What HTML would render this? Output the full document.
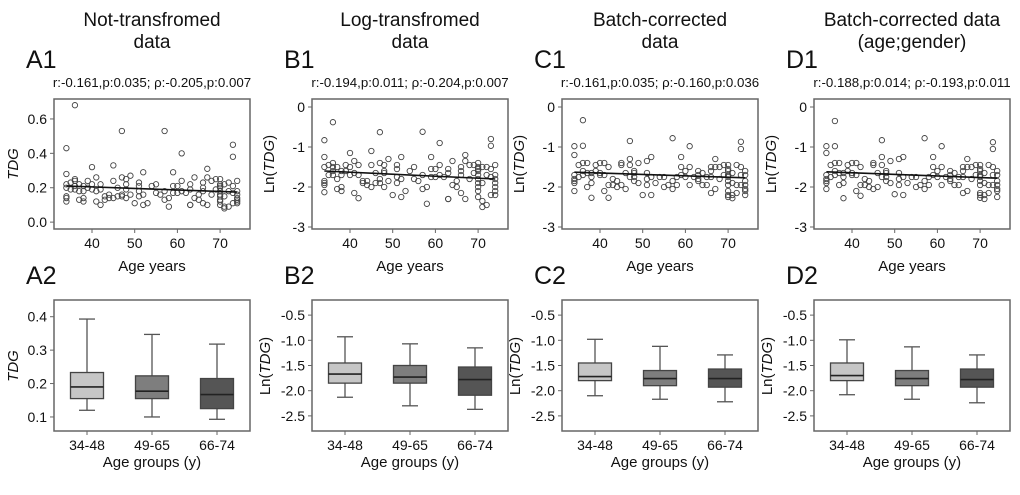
<!DOCTYPE html>
<html><head><meta charset="utf-8"><style>
body{margin:0;background:#fff;}
svg{display:block;font-family:"Liberation Sans",Arial,sans-serif;}
</style></head><body>
<svg id="fig" width="1020" height="495" viewBox="0 0 1020 495"></svg>
<script>
const ages=[34,34,34,34,34,34,34,35,35,36,36,36,36,36,37,37,37,38,38,38,38,39,39,40,40,40,41,41,41,42,42,42,43,43,44,44,45,45,45,46,46,47,47,47,47,48,48,48,48,49,49,50,51,51,51,51,52,52,52,53,54,55,55,56,57,57,57,58,58,59,59,59,60,60,61,61,61,62,63,63,63,63,64,64,65,65,66,66,66,66,67,67,67,68,68,69,69,70,70,70,70,70,70,70,70,70,70,71,71,71,71,72,72,72,73,73,73,73,73,74,74,74,74,74,74,74];
const valsA=[0.43,0.28,0.22,0.2,0.15,0.14,0.12,0.19,0.23,0.68,0.25,0.24,0.21,0.19,0.22,0.13,0.18,0.21,0.12,0.14,0.18,0.24,0.2,0.32,0.22,0.19,0.26,0.18,0.12,0.22,0.1,0.19,0.15,0.13,0.14,0.16,0.33,0.24,0.14,0.2,0.15,0.53,0.26,0.16,0.15,0.25,0.19,0.14,0.22,0.27,0.16,0.11,0.23,0.21,0.15,0.18,0.29,0.16,0.1,0.11,0.21,0.22,0.17,0.16,0.53,0.18,0.13,0.09,0.14,0.29,0.21,0.17,0.21,0.17,0.4,0.24,0.18,0.17,0.22,0.19,0.1,0.1,0.26,0.14,0.13,0.16,0.23,0.2,0.18,0.11,0.31,0.26,0.1,0.24,0.16,0.25,0.19,0.25,0.22,0.2,0.18,0.16,0.15,0.13,0.12,0.1,0.21,0.22,0.08,0.09,0.15,0.23,0.09,0.18,0.45,0.38,0.21,0.11,0.17,0.24,0.18,0.16,0.14,0.12,0.11,0.13];
const valsB=[-0.83,-1.25,-1.5,-1.85,-1.95,-2.13,-1.9,-1.45,-1.7,-0.38,-1.4,-1.5,-1.6,-1.7,-1.5,-1.8,-2.05,-1.6,-2.1,-2.0,-1.7,-1.45,-1.6,-1.15,-1.5,-1.7,-1.35,-1.65,-2.15,-1.45,-2.28,-1.7,-1.85,-1.9,-1.95,-1.85,-1.1,-1.45,-2.0,-1.65,-1.9,-0.63,-1.4,-1.8,-1.9,-1.45,-1.65,-2.0,-1.6,-1.3,-1.85,-2.2,-1.45,-1.55,-1.9,-1.75,-1.25,-1.8,-2.25,-2.1,-1.6,-1.5,-1.8,-1.85,-0.62,-1.7,-2.05,-2.42,-2.0,-1.25,-1.55,-1.75,-1.55,-1.75,-0.9,-1.45,-1.7,-1.75,-1.55,-1.65,-2.3,-2.3,-1.35,-1.95,-2.0,-1.85,-1.5,-1.6,-1.7,-2.15,-1.2,-1.35,-2.3,-1.45,-1.8,-1.45,-1.65,-1.4,-1.5,-1.6,-1.7,-1.8,-1.9,-2.0,-2.1,-2.25,-1.55,-1.5,-2.5,-2.35,-1.9,-1.5,-2.45,-1.7,-0.8,-0.97,-1.55,-2.2,-1.75,-1.45,-1.7,-1.8,-1.9,-2.0,-2.1,-2.2];
const valsC=[-0.98,-1.2,-1.7,-1.8,-1.85,-2.1,-1.9,-1.45,-1.75,-0.33,-0.97,-1.4,-1.6,-1.7,-1.4,-1.65,-2.0,-1.65,-2.27,-1.9,-1.75,-1.45,-1.6,-1.4,-1.65,-1.7,-1.4,-1.7,-2.1,-1.5,-2.27,-1.95,-1.8,-1.95,-1.85,-2.0,-1.4,-1.45,-1.95,-1.65,-2.05,-0.85,-1.3,-1.45,-1.75,-1.65,-1.75,-1.85,-1.6,-1.4,-1.9,-2.2,-1.35,-1.65,-1.8,-1.95,-1.25,-1.75,-2.2,-1.9,-1.75,-1.75,-2.0,-1.95,-0.78,-1.85,-2.05,-1.95,-1.75,-1.25,-1.5,-1.7,-1.6,-1.75,-0.98,-1.5,-1.95,-1.75,-1.6,-1.7,-1.8,-1.85,-1.65,-1.95,-1.75,-1.95,-1.5,-1.6,-1.75,-2.15,-1.3,-1.5,-2.05,-1.5,-1.8,-1.45,-1.7,-1.45,-1.55,-1.6,-1.7,-1.75,-1.85,-1.95,-2.1,-2.2,-2.25,-1.65,-2.2,-2.28,-1.9,-1.45,-2.15,-1.95,-0.87,-1.05,-1.5,-1.95,-1.7,-1.6,-1.7,-1.85,-1.95,-2.05,-2.1,-2.2];
const valsD=[-0.98,-1.15,-1.7,-1.8,-1.85,-2.05,-1.9,-1.45,-1.75,-0.35,-0.98,-1.4,-1.6,-1.7,-1.4,-1.65,-1.95,-1.65,-2.28,-1.9,-1.75,-1.45,-1.6,-1.4,-1.65,-1.7,-1.4,-1.7,-2.1,-1.5,-2.22,-1.95,-1.8,-1.95,-1.85,-2.0,-1.4,-1.45,-2.05,-1.65,-2.0,-0.83,-1.25,-1.45,-1.75,-1.65,-1.75,-1.85,-1.6,-1.35,-1.9,-2.18,-1.3,-1.65,-1.8,-1.95,-1.25,-1.75,-2.2,-1.9,-1.75,-1.75,-2.0,-1.95,-0.78,-1.85,-2.05,-1.95,-1.75,-1.25,-1.5,-1.7,-1.6,-1.75,-0.98,-1.5,-1.95,-1.75,-1.6,-1.7,-1.8,-1.85,-1.65,-1.95,-1.75,-1.95,-1.5,-1.6,-1.75,-2.15,-1.3,-1.5,-2.1,-1.5,-1.8,-1.45,-1.7,-1.45,-1.55,-1.6,-1.7,-1.75,-1.85,-1.95,-2.15,-2.2,-2.27,-1.65,-2.2,-2.3,-1.9,-1.45,-2.15,-1.95,-0.88,-1.05,-1.5,-1.95,-1.7,-1.6,-1.7,-1.85,-1.95,-2.05,-2.1,-2.25];
const lineStart=[0.21,-1.6,-1.63,-1.62];
const lineEnd=[0.175,-1.8,-1.77,-1.78];
const groups=["34-48","49-65","66-74"];
const boxA=[[0.12,0.155,0.19,0.233,0.393],[0.1,0.155,0.177,0.223,0.347],[0.093,0.125,0.167,0.215,0.318]];
const boxB=[[-2.13,-1.85,-1.67,-1.45,-0.93],[-2.3,-1.85,-1.73,-1.5,-1.07],[-2.37,-2.09,-1.78,-1.53,-1.15]];
const boxC=[[-2.1,-1.8,-1.72,-1.45,-0.98],[-2.17,-1.9,-1.76,-1.6,-1.12],[-2.22,-1.93,-1.76,-1.57,-1.29]];
const boxD=[[-2.08,-1.8,-1.7,-1.45,-0.99],[-2.17,-1.9,-1.76,-1.6,-1.13],[-2.24,-1.93,-1.78,-1.57,-1.29]];
const titles1=["Not-transfromed","Log-transfromed","Batch-corrected","Batch-corrected data"];
const titles2=["data","data","data","(age;gender)"];
const stats=["r:-0.161,p:0.035; \u03c1:-0.205,p:0.007","r:-0.194,p:0.011; \u03c1:-0.204,p:0.007","r:-0.161,p:0.035; \u03c1:-0.160,p:0.036","r:-0.188,p:0.014; \u03c1:-0.193,p:0.011"];
const ageTicks=[40,50,60,70];
const ticksA1=[0.0,0.2,0.4,0.6], ticksLn1=[0,-1,-2,-3];
const ticksA2=[0.1,0.2,0.3,0.4], ticksLn2=[-0.5,-1.0,-1.5,-2.0,-2.5];

const NS="http://www.w3.org/2000/svg", svg=document.getElementById('fig');
function el(tag,attrs,parent,text){const e=document.createElementNS(NS,tag);for(const k in attrs)e.setAttribute(k,attrs[k]);if(text!==undefined)e.textContent=text;(parent||svg).appendChild(e);return e;}
const lefts=[54,312,562,814], W=196;
const letters=["A","B","C","D"];
const scat=[valsA,valsB,valsC,valsD], boxes=[boxA,boxB,boxC,boxD];
lefts.forEach((L,i)=>{
  const cx=L+98;
  const t1=el('text',{x:cx,y:26,'text-anchor':'middle','font-size':19,fill:'#111'},svg,titles1[i]);
  
  
  const t2=el('text',{x:cx,y:48,'text-anchor':'middle','font-size':19,fill:'#111'},svg,titles2[i]);
  
  
  const p1=el('text',{x:L-28,y:68,'font-size':25,fill:'#111'},svg,letters[i]+"1");
  
  
  const p2=el('text',{x:L-28,y:284,'font-size':25,fill:'#111'},svg,letters[i]+"2");
  
  
  const st=el('text',{x:cx,y:87,'text-anchor':'middle','font-size':13.3,fill:'#111'},svg,stats[i]);
  
  

  const g=el('g',{});
  
  
  const T=99,B=229;
  const isA=i===0;
  const yMax=isA?0.716:0.2, yMin=isA?-0.04:-3.05;
  const ys=v=>T+(yMax-v)/(yMax-yMin)*(B-T);
  const xs=a=>L+38+(a-40)*4.27;
  ages.forEach((a,k)=>{
    const c=el('circle',{cx:xs(a),cy:ys(scat[i][k]),r:2.7,fill:'none',stroke:'#444','stroke-width':0.9},g);
    
    
  });
  const rl=el('line',{x1:xs(34),y1:ys(lineStart[i]),x2:xs(74),y2:ys(lineEnd[i]),stroke:'#111','stroke-width':1.6},g);
  
  
  const fr=el('rect',{x:L,y:T,width:W,height:B-T,fill:'none',stroke:'#666','stroke-width':1.5},g);
  
  
  (isA?ticksA1:ticksLn1).forEach(t=>{
    el('line',{x1:L-4,x2:L,y1:ys(t),y2:ys(t),stroke:'#666'},g);
    const tl=el('text',{x:L-7,y:ys(t)+5,'text-anchor':'end','font-size':14,fill:'#111'},g,isA?t.toFixed(1):String(t));
    
    
  });
  ageTicks.forEach(t=>{
    el('line',{x1:xs(t),x2:xs(t),y1:B,y2:B+4,stroke:'#666'},g);
    const tl=el('text',{x:xs(t),y:B+19,'text-anchor':'middle','font-size':14,fill:'#111'},g,String(t));
    
    
  });
  const xt=el('text',{x:cx,y:271,'text-anchor':'middle','font-size':15,fill:'#111'},g,"Age years");
  
  
  const yt=el('text',{transform:`translate(${L-(isA?36:38)},164) rotate(-90)`,'text-anchor':'middle','font-size':15,fill:'#111'},g);
  
  
  if(!isA){el('tspan',{},yt,"Ln(");}
  el('tspan',{'font-style':'italic'},yt,"TDG");
  if(!isA){el('tspan',{},yt,")");}

  const g2=el('g',{});
  
  
  const T2=300,B2=431;
  const yM2=isA?0.45:-0.2, ym2=isA?0.058:-2.8;
  const ys2=v=>T2+(yM2-v)/(yM2-ym2)*(B2-T2);
  const fills=['#c6c6c6','#7e7e7e','#555555'];
  const offs=[33,98,163];
  groups.forEach((gname,j)=>{
    const d=boxes[i][j], c=L+offs[j], hw=16.5, cw=8;
    const bg=el('g',{},g2);
    
    
    el('line',{x1:c,x2:c,y1:ys2(d[0]),y2:ys2(d[4]),stroke:'#555','stroke-width':1.3},bg);
    el('line',{x1:c-cw,x2:c+cw,y1:ys2(d[0]),y2:ys2(d[0]),stroke:'#555','stroke-width':1.3},bg);
    el('line',{x1:c-cw,x2:c+cw,y1:ys2(d[4]),y2:ys2(d[4]),stroke:'#555','stroke-width':1.3},bg);
    el('rect',{x:c-hw,y:ys2(d[3]),width:2*hw,height:ys2(d[1])-ys2(d[3]),fill:fills[j],stroke:'#444','stroke-width':1.3},bg);
    el('line',{x1:c-hw,x2:c+hw,y1:ys2(d[2]),y2:ys2(d[2]),stroke:'#222','stroke-width':1.6},bg);
    el('line',{x1:c,x2:c,y1:B2,y2:B2+4,stroke:'#666'},g2);
    const tl=el('text',{x:c,y:B2+19,'text-anchor':'middle','font-size':14,fill:'#111'},g2,gname);
    
    
  });
  const fr2=el('rect',{x:L,y:T2,width:W,height:B2-T2,fill:'none',stroke:'#666','stroke-width':1.5},g2);
  
  
  (isA?ticksA2:ticksLn2).forEach(t=>{
    el('line',{x1:L-4,x2:L,y1:ys2(t),y2:ys2(t),stroke:'#666'},g2);
    const tl=el('text',{x:L-7,y:ys2(t)+5,'text-anchor':'end','font-size':14,fill:'#111'},g2,t.toFixed(1));
    
    
  });
  const xt2=el('text',{x:cx,y:467,'text-anchor':'middle','font-size':15,fill:'#111'},g2,"Age groups (y)");
  
  
  const yt2=el('text',{transform:`translate(${L-(isA?36:42)},366) rotate(-90)`,'text-anchor':'middle','font-size':15,fill:'#111'},g2);
  
  
  if(!isA){el('tspan',{},yt2,"Ln(");}
  el('tspan',{'font-style':'italic'},yt2,"TDG");
  if(!isA){el('tspan',{},yt2,")");}
});
</script>
</body></html>
